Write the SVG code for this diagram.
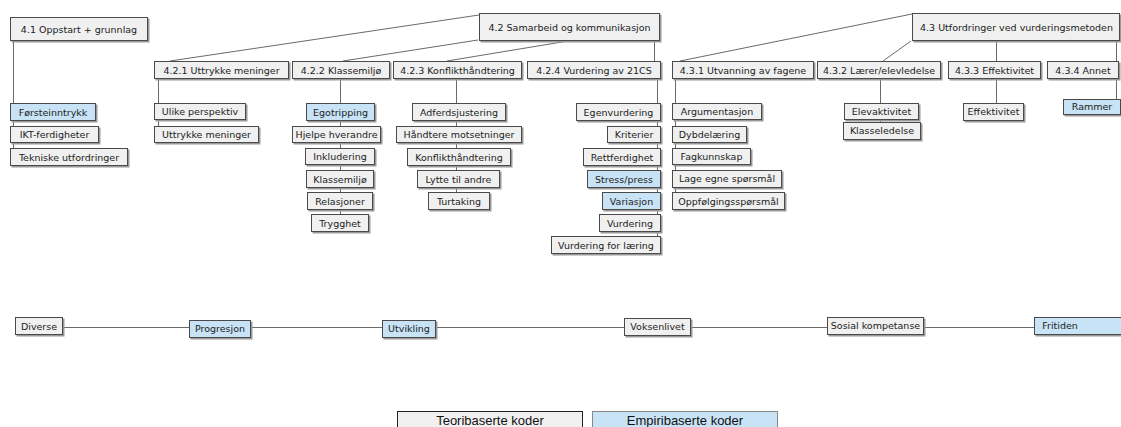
<svg xmlns="http://www.w3.org/2000/svg" width="1121" height="427" viewBox="0 0 1121 427">
<style>
.sh{fill:#999}
.b{fill:#f0f0f0;stroke:#4a4a4a;stroke-width:1}
.e{fill:#c7e3f5;stroke:#4a4a4a;stroke-width:1}
.t{font-family:"DejaVu Sans",Verdana,sans-serif;font-size:9.5px;fill:#222;text-anchor:middle}
.c{stroke:#6a6a6a;stroke-width:1;fill:none}
.lg{font-family:"Liberation Sans",Arial,sans-serif;font-size:13px;fill:#111;text-anchor:middle}
</style>
<rect width="1121" height="427" fill="#fff"/>
<g id="connectors">
<line class="c" x1="479" y1="15" x2="170" y2="61"/>
<line class="c" x1="478" y1="40" x2="343" y2="61"/>
<line class="c" x1="568" y1="41" x2="447" y2="61"/>
<line class="c" x1="654.5" y1="41" x2="654.5" y2="61"/>
<line class="c" x1="912" y1="14" x2="680" y2="61"/>
<line class="c" x1="911" y1="41" x2="883" y2="61"/>
<line class="c" x1="996.5" y1="41" x2="996.5" y2="61"/>
<line class="c" x1="1116.5" y1="41" x2="1116.5" y2="61"/>
<line class="c" x1="13.5" y1="41" x2="13.5" y2="148"/>
<line class="c" x1="158.5" y1="79" x2="158.5" y2="126"/>
<line class="c" x1="340.5" y1="79" x2="340.5" y2="214"/>
<line class="c" x1="456.5" y1="79" x2="456.5" y2="192"/>
<line class="c" x1="657.5" y1="79" x2="657.5" y2="236"/>
<line class="c" x1="675.5" y1="79" x2="675.5" y2="192"/>
<line class="c" x1="880.5" y1="79" x2="880.5" y2="122"/>
<line class="c" x1="996.5" y1="79" x2="996.5" y2="103"/>
<line class="c" x1="1116.5" y1="79" x2="1116.5" y2="99"/>
<line class="c" x1="63" y1="327.5" x2="1034" y2="327.5"/>
</g>

<g id="n41"><rect class="sh" x="11.5" y="18.5" width="138" height="24"/><rect class="b" x="10.5" y="17.5" width="137" height="23"/><text class="t" x="79" y="32.5">4.1 Oppstart + grunnlag</text></g>
<g id="n42"><rect class="sh" x="480.5" y="14.5" width="181" height="28"/><rect class="b" x="479.5" y="13.5" width="180" height="27"/><text class="t" x="569.5" y="30.5">4.2 Samarbeid og kommunikasjon</text></g>
<g id="n43"><rect class="sh" x="913.5" y="14.5" width="208" height="28"/><rect class="b" x="912.5" y="13.5" width="207" height="27"/><text class="t" x="1016.5" y="30.5">4.3 Utfordringer ved vurderingsmetoden</text></g>

<g id="n421"><rect class="sh" x="155.5" y="62.5" width="135" height="18"/><rect class="b" x="154.5" y="61.5" width="134" height="17"/><text class="t" x="221.5" y="73.5">4.2.1 Uttrykke meninger</text></g>
<g id="n422"><rect class="sh" x="293.5" y="62.5" width="98" height="18"/><rect class="b" x="292.5" y="61.5" width="97" height="17"/><text class="t" x="341" y="73.5">4.2.2 Klassemiljø</text></g>
<g id="n423"><rect class="sh" x="394.5" y="62.5" width="129" height="18"/><rect class="b" x="393.5" y="61.5" width="128" height="17"/><text class="t" x="457.5" y="73.5">4.2.3 Konflikthåndtering</text></g>
<g id="n424"><rect class="sh" x="528.5" y="62.5" width="134" height="18"/><rect class="b" x="527.5" y="61.5" width="133" height="17"/><text class="t" x="594" y="73.5">4.2.4 Vurdering av 21CS</text></g>
<g id="n431"><rect class="sh" x="673.5" y="62.5" width="142" height="18"/><rect class="b" x="672.5" y="61.5" width="141" height="17"/><text class="t" x="743" y="73.5">4.3.1 Utvanning av fagene</text></g>
<g id="n432"><rect class="sh" x="818.5" y="62.5" width="124" height="18"/><rect class="b" x="817.5" y="61.5" width="123" height="17"/><text class="t" x="879" y="73.5">4.3.2 Lærer/elevledelse</text></g>
<g id="n433"><rect class="sh" x="949.5" y="62.5" width="93" height="18"/><rect class="b" x="948.5" y="61.5" width="92" height="17"/><text class="t" x="994.5" y="73.5">4.3.3 Effektivitet</text></g>
<g id="n434"><rect class="sh" x="1048.5" y="62.5" width="72" height="18"/><rect class="b" x="1047.5" y="61.5" width="71" height="17"/><text class="t" x="1083" y="73.5">4.3.4 Annet</text></g>

<!-- 4.1 leaves -->
<g id="forsteinntrykk"><rect class="sh" x="11.5" y="104.5" width="86" height="18"/><rect class="e" x="10.5" y="103.5" width="85" height="17"/><text class="t" x="53" y="115.5">Førsteinntrykk</text></g>
<g id="ikt"><rect class="sh" x="11.5" y="127.5" width="89" height="17"/><rect class="b" x="10.5" y="126.5" width="88" height="16"/><text class="t" x="54.5" y="138">IKT-ferdigheter</text></g>
<g id="tekniske"><rect class="sh" x="11.5" y="149.5" width="118" height="18"/><rect class="b" x="10.5" y="148.5" width="117" height="17"/><text class="t" x="69" y="160.5">Tekniske utfordringer</text></g>

<!-- 4.2.1 leaves -->
<g id="ulike"><rect class="sh" x="155.5" y="104.5" width="92" height="17"/><rect class="b" x="154.5" y="103.5" width="91" height="16"/><text class="t" x="200" y="115">Ulike perspektiv</text></g>
<g id="uttrykke"><rect class="sh" x="155.5" y="127.5" width="105" height="17"/><rect class="b" x="154.5" y="126.5" width="104" height="16"/><text class="t" x="206.5" y="138">Uttrykke meninger</text></g>

<!-- 4.2.2 leaves -->
<g id="egotripping"><rect class="sh" x="307.5" y="104.5" width="69" height="18"/><rect class="e" x="306.5" y="103.5" width="68" height="17"/><text class="t" x="340.5" y="115.5">Egotripping</text></g>
<g id="hjelpe"><rect class="sh" x="293.5" y="127.5" width="89" height="17"/><rect class="b" x="292.5" y="126.5" width="88" height="16"/><text class="t" x="336.5" y="138">Hjelpe hverandre</text></g>
<g id="inkludering"><rect class="sh" x="306.5" y="149.5" width="70" height="17"/><rect class="b" x="305.5" y="148.5" width="69" height="16"/><text class="t" x="340" y="160">Inkludering</text></g>
<g id="klassemiljo"><rect class="sh" x="307.5" y="171.5" width="68" height="18"/><rect class="b" x="306.5" y="170.5" width="67" height="17"/><text class="t" x="340" y="182.5">Klassemiljø</text></g>
<g id="relasjoner"><rect class="sh" x="308.5" y="193.5" width="66" height="18"/><rect class="b" x="307.5" y="192.5" width="65" height="17"/><text class="t" x="340" y="204.5">Relasjoner</text></g>
<g id="trygghet"><rect class="sh" x="312.5" y="215.5" width="58" height="18"/><rect class="b" x="311.5" y="214.5" width="57" height="17"/><text class="t" x="340" y="226.5">Trygghet</text></g>

<!-- 4.2.3 leaves -->
<g id="adferd"><rect class="sh" x="413.5" y="104.5" width="94" height="18"/><rect class="b" x="412.5" y="103.5" width="93" height="17"/><text class="t" x="459" y="115.5">Adferdsjustering</text></g>
<g id="handtere"><rect class="sh" x="397.5" y="127.5" width="126" height="17"/><rect class="b" x="396.5" y="126.5" width="125" height="16"/><text class="t" x="459" y="138">Håndtere motsetninger</text></g>
<g id="konflikt"><rect class="sh" x="408.5" y="149.5" width="104" height="18"/><rect class="b" x="407.5" y="148.5" width="103" height="17"/><text class="t" x="459" y="160.5">Konflikthåndtering</text></g>
<g id="lytte"><rect class="sh" x="418.5" y="171.5" width="83" height="18"/><rect class="b" x="417.5" y="170.5" width="82" height="17"/><text class="t" x="458.5" y="182.5">Lytte til andre</text></g>
<g id="turtaking"><rect class="sh" x="429.5" y="193.5" width="62" height="18"/><rect class="b" x="428.5" y="192.5" width="61" height="17"/><text class="t" x="459" y="204.5">Turtaking</text></g>

<!-- 4.2.4 leaves -->
<g id="egenvurdering"><rect class="sh" x="577.5" y="104.5" width="85" height="18"/><rect class="b" x="576.5" y="103.5" width="84" height="17"/><text class="t" x="618.5" y="115.5">Egenvurdering</text></g>
<g id="kriterier"><rect class="sh" x="608.5" y="127.5" width="54" height="17"/><rect class="b" x="607.5" y="126.5" width="53" height="16"/><text class="t" x="634" y="138">Kriterier</text></g>
<g id="rettferdighet"><rect class="sh" x="584.5" y="149.5" width="78" height="18"/><rect class="b" x="583.5" y="148.5" width="77" height="17"/><text class="t" x="622" y="160.5">Rettferdighet</text></g>
<g id="stress"><rect class="sh" x="588.5" y="171.5" width="74" height="18"/><rect class="e" x="587.5" y="170.5" width="73" height="17"/><text class="t" x="624" y="182.5">Stress/press</text></g>
<g id="variasjon"><rect class="sh" x="603.5" y="193.5" width="59" height="18"/><rect class="e" x="602.5" y="192.5" width="58" height="17"/><text class="t" x="631.5" y="204.5">Variasjon</text></g>
<g id="vurdering"><rect class="sh" x="600.5" y="215.5" width="62" height="18"/><rect class="b" x="599.5" y="214.5" width="61" height="17"/><text class="t" x="630" y="226.5">Vurdering</text></g>
<g id="vfl"><rect class="sh" x="552.5" y="237.5" width="110" height="18"/><rect class="b" x="551.5" y="236.5" width="109" height="17"/><text class="t" x="606" y="248.5">Vurdering for læring</text></g>

<!-- 4.3.1 leaves -->
<g id="argumentasjon"><rect class="sh" x="673.5" y="104.5" width="90" height="17"/><rect class="b" x="672.5" y="103.5" width="89" height="16"/><text class="t" x="717" y="115">Argumentasjon</text></g>
<g id="dybdelaering"><rect class="sh" x="673.5" y="127.5" width="75" height="17"/><rect class="b" x="672.5" y="126.5" width="74" height="16"/><text class="t" x="709.5" y="138">Dybdelæring</text></g>
<g id="fagkunnskap"><rect class="sh" x="673.5" y="149.5" width="79" height="17"/><rect class="b" x="672.5" y="148.5" width="78" height="16"/><text class="t" x="711.5" y="160">Fagkunnskap</text></g>
<g id="lage"><rect class="sh" x="673.5" y="171.5" width="110" height="18"/><rect class="b" x="672.5" y="170.5" width="109" height="17"/><text class="t" x="727" y="182">Lage egne spørsmål</text></g>
<g id="oppfolging"><rect class="sh" x="673.5" y="193.5" width="113" height="18"/><rect class="b" x="672.5" y="192.5" width="112" height="17"/><text class="t" x="728.5" y="204.5">Oppfølgingsspørsmål</text></g>

<!-- 4.3.2 leaves -->
<g id="elevaktivitet"><rect class="sh" x="845.5" y="104.5" width="75" height="17"/><rect class="b" x="844.5" y="103.5" width="74" height="16"/><text class="t" x="881.5" y="115">Elevaktivitet</text></g>
<g id="klasseledelse"><rect class="sh" x="844.5" y="123.5" width="78" height="18"/><rect class="b" x="843.5" y="122.5" width="77" height="17"/><text class="t" x="882" y="134">Klasseledelse</text></g>

<!-- 4.3.3 / 4.3.4 leaves -->
<g id="effektivitet"><rect class="sh" x="964.5" y="104.5" width="61" height="18"/><rect class="b" x="963.5" y="103.5" width="60" height="17"/><text class="t" x="993.5" y="115">Effektivitet</text></g>
<g id="rammer"><rect class="sh" x="1064.5" y="100.5" width="58" height="16"/><rect class="e" x="1063.5" y="99.5" width="57" height="15"/><text class="t" x="1092" y="110">Rammer</text></g>

<!-- bottom row -->
<g id="diverse"><rect class="sh" x="16.5" y="318.5" width="48" height="18"/><rect class="b" x="15.5" y="317.5" width="47" height="17"/><text class="t" x="39" y="329.5">Diverse</text></g>
<g id="progresjon"><rect class="sh" x="190.5" y="321.5" width="62" height="18"/><rect class="e" x="189.5" y="320.5" width="61" height="17"/><text class="t" x="220" y="332">Progresjon</text></g>
<g id="utvikling"><rect class="sh" x="383.5" y="321.5" width="54" height="18"/><rect class="e" x="382.5" y="320.5" width="53" height="17"/><text class="t" x="409" y="332">Utvikling</text></g>
<g id="voksenlivet"><rect class="sh" x="625.5" y="319.5" width="67" height="18"/><rect class="b" x="624.5" y="318.5" width="66" height="17"/><text class="t" x="657.5" y="330">Voksenlivet</text></g>
<g id="sosial"><rect class="sh" x="828.5" y="318.5" width="97" height="18"/><rect class="b" x="827.5" y="317.5" width="96" height="17"/><text class="t" x="875.5" y="329">Sosial kompetanse</text></g>
<g id="fritiden"><rect class="sh" x="1035.5" y="318.5" width="90" height="18"/><rect class="e" x="1034.5" y="317.5" width="90" height="17"/><text class="t" x="1060" y="329">Fritiden</text></g>

<!-- legend -->
<g id="legend-teori"><rect x="397.5" y="411.5" width="185" height="22" fill="#f0f0f0" stroke="#222" stroke-width="1"/><text class="lg" x="490" y="425">Teoribaserte koder</text></g>
<g id="legend-empiri"><rect x="592.5" y="411.5" width="185" height="22" fill="#c7e3f5" stroke="#888" stroke-width="1"/><text class="lg" x="685" y="425">Empiribaserte koder</text></g>
</svg>
